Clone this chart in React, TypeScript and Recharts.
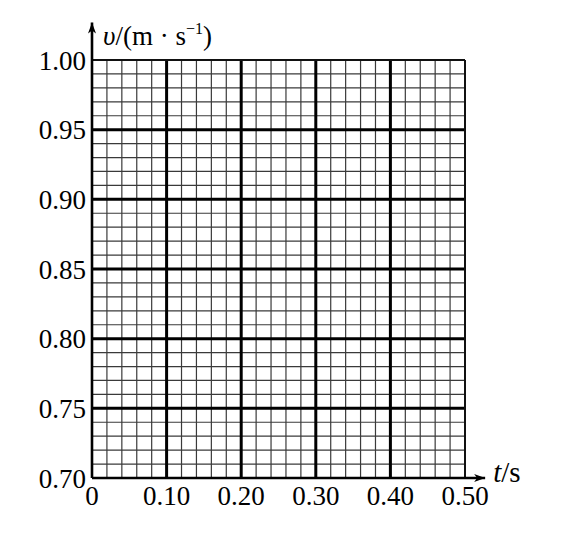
import { ComposedChart, XAxis, YAxis, ReferenceLine, Line } from "recharts";

const xTicks = [0, 0.1, 0.2, 0.3, 0.4, 0.5];
const yTicks = [0.7, 0.75, 0.8, 0.85, 0.9, 0.95, 1.0];
const xMinor = [
  0.02, 0.04, 0.06, 0.08, 0.12, 0.14, 0.16, 0.18, 0.22, 0.24,
  0.26, 0.28, 0.32, 0.34, 0.36, 0.38, 0.42, 0.44, 0.46, 0.48,
];
const yMinor = [
  0.71, 0.72, 0.73, 0.74, 0.76, 0.77, 0.78, 0.79, 0.81, 0.82, 0.83, 0.84,
  0.86, 0.87, 0.88, 0.89, 0.91, 0.92, 0.93, 0.94, 0.96, 0.97, 0.98, 0.99,
];
const xMajorInner = [0.1, 0.2, 0.3, 0.4];
const yMajorInner = [0.75, 0.8, 0.85, 0.9, 0.95];
const xDomain: [number, number] = [0, 0.5];
const yDomain: [number, number] = [0.7, 1.0];
const xArrowEnd = 0.527;
const yArrowEnd = 1.027;
// blank graph paper: no measurements plotted yet
const readings: { t: number; v: number | null }[] = [
  { t: 0, v: null },
  { t: 0.5, v: null },
];

const FONT = '"Liberation Serif", "DejaVu Serif", serif';
const fmt = (v: number) => (v === 0 ? "0" : v.toFixed(2));

const Arrow = (props: any) => {
  const { x1, y1, x2, y2 } = props;
  if ([x1, y1, x2, y2].some((n) => typeof n !== "number" || isNaN(n))) return <g />;
  const vertical = Math.abs(x1 - x2) < 1;
  const head = vertical
    ? `M${x2},${y2} L${x2 - 4},${y2 + 11} L${x2},${y2 + 8} L${x2 + 4},${y2 + 11} Z`
    : `M${x2},${y2} L${x2 - 11},${y2 - 4} L${x2 - 8},${y2} L${x2 - 11},${y2 + 4} Z`;
  return (
    <g>
      <line x1={x1} y1={y1} x2={x2} y2={y2} stroke="#000" strokeWidth={2.6} />
      <path d={head} fill="#000" />
      {vertical ? (
        <text x={x2 + 11} y={y2 + 23} fontFamily={FONT} fontSize={27} fill="#000">
          <tspan fontStyle="italic">υ</tspan>
          <tspan>/(m · s</tspan>
          <tspan fontSize={16} dy={-11}>−1</tspan>
          <tspan dy={11}>)</tspan>
        </text>
      ) : (
        <text x={x2 + 8} y={y2 + 4} fontFamily={FONT} fontSize={29} fill="#000">
          <tspan fontStyle="italic">t</tspan>
          <tspan>/s</tspan>
        </text>
      )}
    </g>
  );
};

export default function App() {
  return (
    <div style={{ width: 548, height: 521, background: "#fff" }}>
      <ComposedChart
        width={548}
        height={521}
        data={readings}
        margin={{ top: 52, right: 91, bottom: 11, left: 0 }}
      >
        <XAxis
          type="number"
          dataKey="t"
          domain={xDomain}
          allowDataOverflow
          ticks={xTicks}
          tickFormatter={fmt}
          axisLine={false}
          tickLine={false}
          tickSize={0}
          tickMargin={8}
          height={40}
          interval={0}
          tick={{ fill: "#000", fontSize: 27, fontFamily: FONT }}
        />
        <YAxis
          type="number"
          domain={yDomain}
          allowDataOverflow
          ticks={yTicks}
          tickFormatter={fmt}
          axisLine={false}
          tickLine={false}
          tickSize={0}
          tickMargin={6}
          width={84}
          interval={0}
          tick={{ fill: "#000", fontSize: 27, fontFamily: FONT }}
        />
        {xMinor.map((x) => (
          <ReferenceLine key={"xm" + x} x={x} stroke="#3a3a3a" strokeWidth={1.2} />
        ))}
        {yMinor.map((y) => (
          <ReferenceLine key={"ym" + y} y={y} stroke="#3a3a3a" strokeWidth={1.2} />
        ))}
        {xMajorInner.map((x) => (
          <ReferenceLine key={"xM" + x} x={x} stroke="#000" strokeWidth={3} />
        ))}
        {yMajorInner.map((y) => (
          <ReferenceLine key={"yM" + y} y={y} stroke="#000" strokeWidth={3} />
        ))}
        <ReferenceLine x={xDomain[1]} stroke="#111" strokeWidth={2} />
        <ReferenceLine y={yDomain[1]} stroke="#111" strokeWidth={2} />
        <ReferenceLine
          ifOverflow="visible"
          segment={[{ x: 0, y: yDomain[0] }, { x: 0, y: yArrowEnd }]}
          shape={Arrow}
        />
        <ReferenceLine
          ifOverflow="visible"
          segment={[{ x: 0, y: yDomain[0] }, { x: xArrowEnd, y: yDomain[0] }]}
          shape={Arrow}
        />
        <Line dataKey="v" isAnimationActive={false} dot={false} stroke="#000" />
      </ComposedChart>
    </div>
  );
}
